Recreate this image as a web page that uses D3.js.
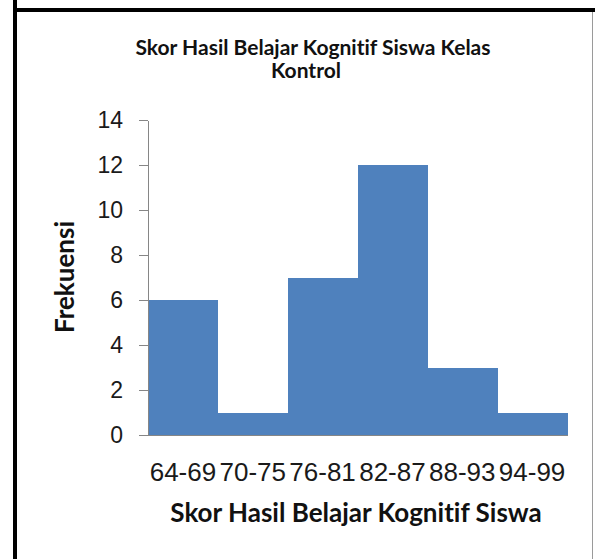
<!DOCTYPE html>
<meta charset="utf-8">
<style>
body { margin: 0; background: #fff; }
svg { display: block; font-family: Lato, "Liberation Sans", sans-serif; font-variant-ligatures: none; }
.axis path, .axis line { fill: none; stroke: #868686; stroke-width: 1px; shape-rendering: crispEdges; }
.axis text { fill: #1a1a1a; }
.bar { shape-rendering: crispEdges; }
.title { font-weight: bold; fill: #111; }
</style>
<body>
<div id="chart"></div>
<script src="https://cdn.jsdelivr.net/npm/d3@7"></script>
<script>
var categories = ["64-69", "70-75", "76-81", "82-87", "88-93", "94-99"];
var frequencies = [6, 1, 7, 12, 3, 1];
var yTicks = [0, 2, 4, 6, 8, 10, 12, 14];

var width = 595, height = 559;
var plot = { left: 148, right: 567, top: 120, bottom: 435 };

var svg = d3.select("#chart").append("svg")
    .attr("width", width)
    .attr("height", height);

// page frame (black edges from the scanned document)
svg.append("rect").attr("x", 13).attr("y", 0).attr("width", 4).attr("height", height).attr("fill", "#000");
svg.append("rect").attr("x", 13).attr("y", 8).attr("width", width - 13).attr("height", 4).attr("fill", "#000");
svg.append("line").attr("x1", 592.5).attr("x2", 592.5).attr("y1", 12).attr("y2", height)
    .attr("stroke", "#9a9a9a").attr("stroke-width", 1);

var x = d3.scaleBand().domain(categories).range([plot.left, plot.right]).padding(0);
var y = d3.scaleLinear().domain([0, 14]).range([plot.bottom, plot.top]);

svg.selectAll(".bar")
    .data(frequencies)
    .enter().append("rect")
    .attr("class", "bar")
    .attr("x", function(d, i) { return x(categories[i]); })
    .attr("y", function(d) { return y(d); })
    .attr("width", x.bandwidth() + 0.5)
    .attr("height", function(d) { return y(0) - y(d); })
    .attr("fill", "#4F81BD");

var yAxis = svg.append("g")
    .attr("class", "axis")
    .attr("transform", "translate(" + plot.left + ",0)")
    .call(d3.axisLeft(y).tickValues(yTicks).tickSize(9).tickSizeOuter(0).tickPadding(16));
yAxis.selectAll("text").style("font-size", "23px");

var xAxis = svg.append("g")
    .attr("class", "axis")
    .attr("transform", "translate(0," + plot.bottom + ")")
    .call(d3.axisBottom(x).tickSize(0).tickSizeOuter(0).tickPadding(28));
xAxis.selectAll(".tick line").remove();
xAxis.selectAll("text").style("font-size", "26px");

svg.append("text").attr("class", "title")
    .attr("x", 313).attr("y", 55)
    .attr("text-anchor", "middle")
    .style("font-size", "21px")
    .text("Skor Hasil Belajar Kognitif Siswa Kelas");
svg.append("text").attr("class", "title")
    .attr("x", 306).attr("y", 78)
    .attr("text-anchor", "middle")
    .style("font-size", "21px")
    .text("Kontrol");

svg.append("text").attr("class", "title")
    .attr("x", 356).attr("y", 522)
    .attr("text-anchor", "middle")
    .style("font-size", "26px")
    .text("Skor Hasil Belajar Kognitif Siswa");

svg.append("text").attr("class", "title")
    .attr("transform", "translate(74,277) rotate(-90)")
    .attr("text-anchor", "middle")
    .style("font-size", "26px")
    .text("Frekuensi");
</script>
</body>
